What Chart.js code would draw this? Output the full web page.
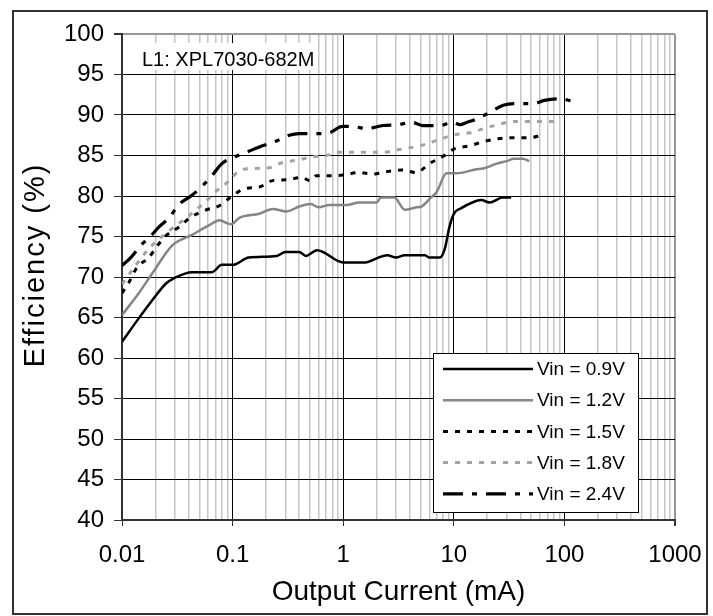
<!DOCTYPE html>
<html>
<head>
<meta charset="utf-8">
<script src="https://cdn.jsdelivr.net/npm/chart.js@4.4.1/dist/chart.umd.min.js"></script>
<style>
  html, body { margin: 0; padding: 0; background: #fff; }
  canvas { display: block; }
</style>
</head>
<body>
<canvas id="effChart" width="713" height="616"></canvas>
<script>
// efficiency vs output current
const seriesLabels = ["Vin = 0.9V", "Vin = 1.2V", "Vin = 1.5V", "Vin = 1.8V", "Vin = 2.4V"];

const vin09X = [0.01, 0.014, 0.0187, 0.025, 0.03, 0.043, 0.065, 0.08, 0.1, 0.14, 0.25, 0.3, 0.4, 0.46, 0.58, 1.0, 1.6, 2.0, 2.5, 3.0, 3.6, 5.5, 6.0, 7.5, 8.3, 9.1, 10, 11.7, 14.7, 17.7, 21, 27.7, 33];
const vin09Y = [62.0, 64.8, 67.1, 69.2, 69.9, 70.6, 70.6, 71.5, 71.5, 72.4, 72.6, 73.1, 73.1, 72.6, 73.3, 71.8, 71.8, 72.3, 72.7, 72.4, 72.7, 72.7, 72.4, 72.4, 73.5, 76.1, 77.8, 78.5, 79.2, 79.5, 79.2, 79.8, 79.8];

const vin12X = [0.01, 0.014, 0.0187, 0.0285, 0.043, 0.065, 0.076, 0.097, 0.115, 0.174, 0.23, 0.31, 0.4, 0.51, 0.6, 0.75, 1.07, 1.4, 2.0, 2.2, 2.9, 3.6, 4.6, 5.1, 6.2, 7.0, 8.6, 10.5, 16, 18.4, 24.5, 30, 35, 42, 48];
const vin12Y = [65.3, 67.9, 70.4, 73.9, 75.2, 76.6, 77.0, 76.5, 77.3, 77.8, 78.4, 78.1, 78.7, 79.0, 78.6, 78.9, 78.9, 79.2, 79.2, 79.8, 79.8, 78.3, 78.6, 78.7, 79.8, 80.5, 82.8, 82.8, 83.3, 83.4, 84.0, 84.3, 84.6, 84.6, 84.3];

const vin15X = [0.01, 0.0115, 0.0137, 0.0175, 0.0207, 0.025, 0.033, 0.041, 0.058, 0.076, 0.097, 0.128, 0.174, 0.23, 0.31, 0.42, 0.5, 0.57, 0.78, 1.0, 1.4, 1.84, 2.45, 3.4, 4.6, 6.0, 8.0, 10, 14, 18.4, 26, 37, 48, 63];
const vin15Y = [68.0, 69.3, 71.2, 72.4, 73.8, 75.1, 76.2, 77.3, 78.3, 78.8, 79.9, 80.9, 81.1, 81.9, 82.0, 82.3, 81.9, 82.5, 82.5, 82.6, 82.9, 82.7, 83.0, 83.2, 82.9, 84.0, 84.9, 85.8, 86.2, 86.7, 87.1, 87.2, 87.2, 87.5];

const vin18X = [0.01, 0.0123, 0.0175, 0.025, 0.038, 0.058, 0.071, 0.09, 0.115, 0.157, 0.215, 0.28, 0.375, 0.51, 0.7, 0.92, 1.27, 2.35, 3.1, 4.2, 5.6, 7.8, 10.5, 14, 18.5, 25, 35, 48, 63, 88];
const vin18Y = [69.1, 70.8, 73.5, 75.4, 77.3, 79.4, 80.6, 81.7, 83.1, 83.4, 83.5, 84.1, 84.4, 84.8, 85.0, 85.4, 85.4, 85.4, 85.7, 86.0, 86.4, 87.1, 87.6, 87.8, 88.3, 88.8, 89.2, 89.2, 89.2, 89.2];

const vin24X = [0.01, 0.012, 0.0148, 0.0183, 0.0216, 0.0266, 0.033, 0.042, 0.053, 0.065, 0.08, 0.103, 0.133, 0.186, 0.25, 0.325, 0.4, 0.57, 0.78, 0.92, 1.0, 1.34, 1.6, 2.3, 3.1, 4.2, 5.2, 7.4, 9.8, 11.4, 13.2, 16, 21, 28, 38, 52, 66, 92, 118];
const vin24Y = [71.4, 72.4, 73.9, 75.1, 76.2, 77.3, 79.0, 80.0, 81.2, 82.5, 84.0, 84.8, 85.4, 86.2, 86.8, 87.5, 87.7, 87.7, 87.9, 88.5, 88.6, 88.5, 88.3, 88.7, 88.8, 89.1, 88.7, 88.7, 89.1, 88.8, 89.1, 89.5, 90.3, 91.2, 91.4, 91.4, 91.8, 92.0, 91.7];

const xDecades = [0.01, 0.1, 1, 10, 100, 1000];
const yMin = 40, yMax = 100, yMajorStep = 5, yMinorStep = 2.5;

const noteText = "L1: XPL7030-682M";
const yTitle = "Efficiency (%)";
const xTitle = "Output Current (mA)";
const fontFamily = '"Liberation Sans", Arial, Helvetica, sans-serif';

// every 1..9 inside each decade for the grid
let xGridValues = [];
for (let d = 0; d < xDecades.length - 1; d++) {
  for (let k = 1; k < 10; k++) {
    xGridValues.push(Number((xDecades[d] * k).toPrecision(4)));
  }
}
xGridValues.push(xDecades[xDecades.length - 1]);

function isDecade(v) {
  return xDecades.some(d => Math.abs(d - v) < d * 1e-6);
}
function toPoints(xs, ys) {
  return xs.map((x, i) => ({ x: x, y: ys[i] }));
}

const lineStyles = [
  { color: "#000000", width: 2.5, dash: [] },
  { color: "#858585", width: 2.5, dash: [] },
  { color: "#000000", width: 3, dash: [5, 7] },
  { color: "#a3a3a3", width: 3, dash: [5, 7] },
  { color: "#000000", width: 3.2, dash: [20, 9, 5, 9] },
];
const allX = [vin09X, vin12X, vin15X, vin18X, vin24X];
const allY = [vin09Y, vin12Y, vin15Y, vin18Y, vin24Y];

const datasets = seriesLabels.map((label, i) => ({
  label: label,
  data: toPoints(allX[i], allY[i]),
  borderColor: lineStyles[i].color,
  borderWidth: lineStyles[i].width,
  borderDash: lineStyles[i].dash,
  pointRadius: 0,
  fill: false,
  tension: 0.3,
  cubicInterpolationMode: "monotone",
}));

Chart.defaults.font.family = fontFamily;
Chart.defaults.color = "#000";

// legend box, inductor note and y title, drawn on top of the grid
const overlayPlugin = {
  id: "overlay",
  afterDatasetsDraw(chart) {
    const ctx = chart.ctx;
    ctx.save();

    // note top-left
    ctx.fillStyle = "#fff";
    ctx.fillRect(125, 43, 189, 27);
    ctx.fillStyle = "#000";
    ctx.font = "20px " + fontFamily;
    ctx.textBaseline = "alphabetic";
    ctx.textAlign = "left";
    ctx.fillText(noteText, 142, 66);

    // legend
    const bx = 433.5, by = 353.5, bw = 205, bh = 159;
    ctx.fillStyle = "#fff";
    ctx.fillRect(bx, by, bw, bh);
    ctx.strokeStyle = "#000";
    ctx.lineWidth = 1;
    ctx.strokeRect(bx, by, bw, bh);

    ctx.font = "19px " + fontFamily;
    ctx.textBaseline = "middle";
    chart.data.datasets.forEach((ds, i) => {
      const y = 369 + i * 31.2;
      ctx.beginPath();
      ctx.setLineDash(ds.borderDash || []);
      ctx.strokeStyle = ds.borderColor;
      ctx.lineWidth = ds.borderWidth;
      ctx.moveTo(443, y);
      ctx.lineTo(533, y);
      ctx.stroke();
      ctx.setLineDash([]);
      ctx.fillStyle = "#000";
      ctx.fillText(ds.label, 537, y + 1);
    });
    ctx.restore();
  },
  afterDraw(chart) {
    const ctx = chart.ctx;
    ctx.save();
    // y title, a little spaced out like the original
    ctx.translate(36, 266);
    ctx.rotate(-Math.PI / 2);
    ctx.font = "29px " + fontFamily;
    ctx.letterSpacing = "2px";
    ctx.textAlign = "center";
    ctx.textBaseline = "middle";
    ctx.fillStyle = "#000";
    ctx.fillText(yTitle, 1, 0);
    ctx.restore();

    ctx.save();
    ctx.strokeStyle = "#333";
    ctx.lineWidth = 2;
    ctx.strokeRect(13, 11, 694, 603);
    ctx.restore();
  },
};

new Chart(document.getElementById("effChart"), {
  type: "line",
  data: { datasets: datasets },
  options: {
    responsive: false,
    animation: false,
    layout: { padding: { top: 34, right: 38, left: 0, bottom: 0 } },
    plugins: {
      legend: { display: false },
      tooltip: { enabled: false },
    },
    scales: {
      x: {
        type: "logarithmic",
        min: 0.01,
        max: 1000,
        afterBuildTicks(scale) {
          scale.ticks = xGridValues.map(v => ({ value: v }));
        },
        afterFit(scale) {
          scale.height = 96;
          scale.paddingLeft = 0;
          scale.paddingRight = 0;
        },
        ticks: {
          autoSkip: false,
          maxRotation: 0,
          padding: 15,
          font: { size: 24 },
          color: "#000",
          callback: (v) => (isDecade(v) ? String(v) : ""),
        },
        grid: {
          tickLength: 6,
          color: (c) => {
            const v = c.tick ? c.tick.value : 0;
            if (v >= 1000) return "#999";
            return isDecade(v) ? "#000" : "#c6c6c6";
          },
          lineWidth: (c) => {
            const v = c.tick ? c.tick.value : 0;
            if (v >= 1000) return 2;
            return isDecade(v) ? 1 : 1.5;
          },
          tickColor: (c) => (c.tick && isDecade(c.tick.value) ? "#333" : "rgba(0,0,0,0)"),
        },
        border: { color: "#333", width: 2 },
        title: {
          display: true,
          text: xTitle,
          font: { size: 28 },
          color: "#000",
          padding: { top: 0, bottom: 7 },
        },
      },
      y: {
        min: yMin,
        max: yMax,
        ticks: {
          stepSize: yMinorStep,
          padding: 10,
          font: { size: 24 },
          color: "#000",
          callback: (v) => (v % yMajorStep === 0 ? String(v) : ""),
        },
        afterFit(scale) {
          scale.width = 122;
          scale.paddingTop = 0;
          scale.paddingBottom = 0;
        },
        grid: {
          tickLength: 8,
          color: (c) => {
            const v = c.tick ? c.tick.value : 0;
            if (v >= yMax) return "#999";
            return v % yMajorStep === 0 ? "#000" : "#c6c6c6";
          },
          lineWidth: (c) => {
            const v = c.tick ? c.tick.value : 0;
            if (v >= yMax) return 2;
            return v % yMajorStep === 0 ? 1 : 1.5;
          },
          tickColor: (c) => (c.tick && c.tick.value % yMajorStep === 0 ? "#333" : "rgba(0,0,0,0)"),
        },
        border: { color: "#333", width: 2 },
        title: { display: false },
      },
    },
  },
  plugins: [overlayPlugin],
});
</script>
</body>
</html>
